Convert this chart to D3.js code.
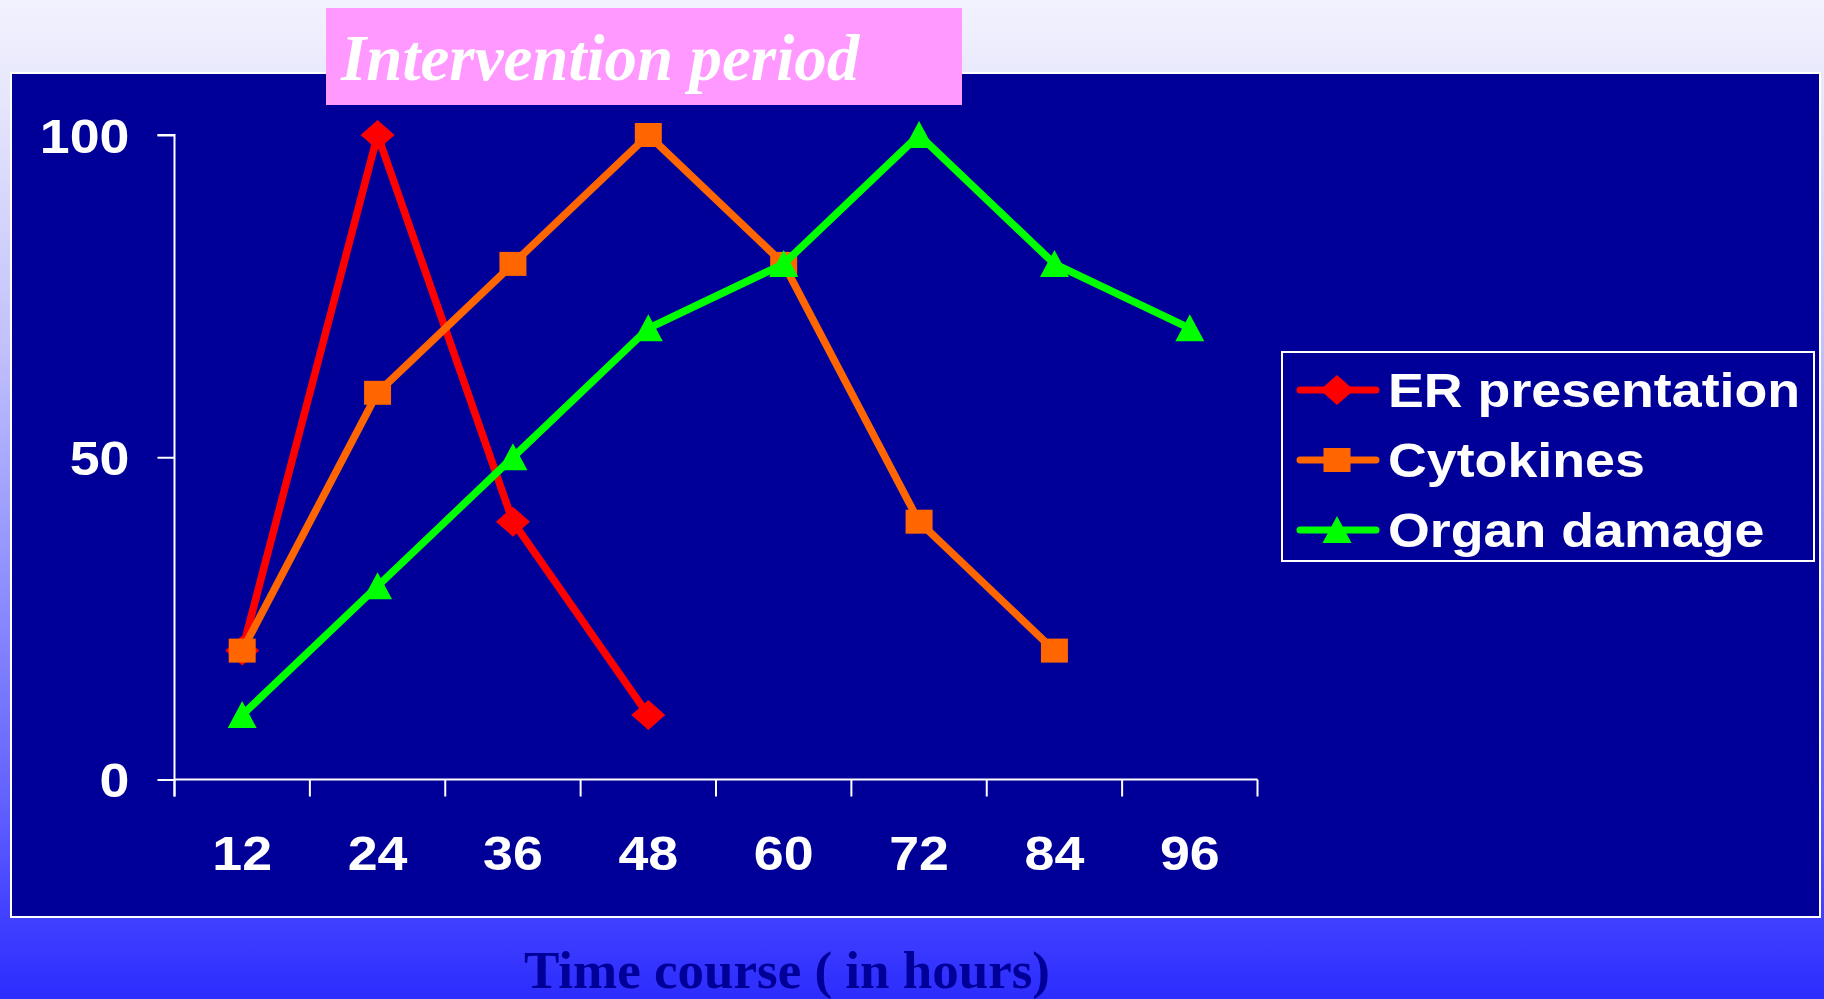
<!DOCTYPE html>
<html>
<head>
<meta charset="utf-8">
<script src="https://cdn.jsdelivr.net/npm/d3@7"></script>
<style>
  html, body { margin: 0; padding: 0; overflow: hidden; }
  svg { display: block; }
</style>
</head>
<body>
<script>
// ---- data ----
const categories = ["12", "24", "36", "48", "60", "72", "84", "96"];
const erPresentation = [20, 100, 40, 10, null, null, null, null];
const cytokines = [20, 60, 80, 100, 80, 40, 20, null];
const organDamage = [10, 30, 50, 70, 80, 100, 80, 70];
const yTicks = [0, 50, 100];
const seriesNames = ["ER presentation", "Cytokines", "Organ damage"];
const seriesColors = ["#ff0000", "#ff6600", "#00ff00"];
const seriesShapes = ["diamond", "square", "triangle"];
const titleText = "Intervention period";
const xTitle = "Time course ( in hours)";

const W = 1824, H = 999;
const SX = 1.12; // horizontal stretch of sans labels

const svg = d3.select("body").append("svg").attr("width", W).attr("height", H);

// background gradient
const defs = svg.append("defs");
const grad = defs.append("linearGradient").attr("id", "bg").attr("x1", 0).attr("y1", 0).attr("x2", 0).attr("y2", 1);
[[0, "#f2f2fe"], [0.1, "#e6e6fc"], [0.35, "#c0c0fc"], [0.8, "#6262ff"], [0.92, "#4040ff"], [1, "#2c2cff"]]
  .forEach(([o, c]) => grad.append("stop").attr("offset", o).attr("stop-color", c));
svg.append("rect").attr("width", W).attr("height", H).attr("fill", "url(#bg)");

// plot panel
svg.append("rect").attr("x", 11).attr("y", 73).attr("width", 1809).attr("height", 844)
  .attr("fill", "#000099").attr("stroke", "#ffffff").attr("stroke-width", 2);

// scales
const x = d3.scaleBand().domain(categories).range([174.5, 1257.5]).padding(0);
const y = d3.scaleLinear().domain([0, 100]).range([779.5, 135]);
const cx = c => x(c) + x.bandwidth() / 2;

// y axis
const yAxis = d3.axisLeft(y).tickValues(yTicks).tickSize(17).tickPadding(28).tickFormat(d3.format("d"));
const gy = svg.append("g").attr("transform", "translate(174.5,0)").call(yAxis);
gy.select(".domain").attr("stroke", "#ffffff").attr("stroke-width", 2).attr("d", `M-17,${y(100)}H0V${y(0) + 17}`);
gy.selectAll(".tick line").attr("stroke", "#ffffff").attr("stroke-width", 2);
gy.selectAll(".tick text")
  .attr("fill", "#ffffff").attr("font-family", "'Liberation Sans', Arial, sans-serif")
  .attr("font-weight", "bold").attr("font-size", 48).attr("text-anchor", "end")
  .attr("dy", "0.36em")
  .attr("transform", function () { const tx = +this.getAttribute("x"); return `translate(${tx},0) scale(${SX},1)`; })
  .attr("x", 0);

// x axis (labels at band centers, ticks at band boundaries)
const xAxis = d3.axisBottom(x).tickSize(0).tickPadding(0);
const gx = svg.append("g").attr("transform", `translate(0,${y(0)})`).call(xAxis);
gx.select(".domain").attr("stroke", "#ffffff").attr("stroke-width", 2).attr("d", `M${x.range()[0]},0H${x.range()[1]}`);
gx.selectAll(".tick text")
  .attr("fill", "#ffffff").attr("font-family", "'Liberation Sans', Arial, sans-serif")
  .attr("font-weight", "bold").attr("font-size", 48)
  .attr("y", 0).attr("dy", 0)
  .attr("transform", `translate(0,90) scale(${SX},1)`);
const boundaries = categories.map(c => x(c)).concat([x.range()[1]]);
gx.selectAll("line.bnd").data(boundaries).join("line").attr("class", "bnd")
  .attr("x1", d => d).attr("x2", d => d).attr("y1", 0).attr("y2", 17)
  .attr("stroke", "#ffffff").attr("stroke-width", 2);

// markers
function markerPath(shape) {
  if (shape === "diamond") return "M0,-15L17,0L0,15L-17,0Z";
  if (shape === "square") return "M-13.5,-12H13.5V12H-13.5Z";
  return "M0,-14L14.5,13L-14.5,13Z";
}

// series
const allSeries = [erPresentation, cytokines, organDamage];
const line = d3.line().defined(d => d.v != null).x(d => cx(d.c)).y(d => y(d.v));
allSeries.forEach((vals, i) => {
  const pts = categories.map((c, j) => ({ c, v: vals[j] }));
  svg.append("path").datum(pts).attr("d", line).attr("fill", "none")
    .attr("stroke", seriesColors[i]).attr("stroke-width", 7.5).attr("stroke-linejoin", "round");
  svg.append("g").selectAll("path").data(pts.filter(d => d.v != null)).join("path")
    .attr("d", markerPath(seriesShapes[i]))
    .attr("transform", d => `translate(${cx(d.c)},${y(d.v)})`)
    .attr("fill", seriesColors[i]);
});

// legend
const lg = svg.append("g");
lg.append("rect").attr("x", 1282).attr("y", 352).attr("width", 532).attr("height", 209)
  .attr("fill", "none").attr("stroke", "#ffffff").attr("stroke-width", 2);
const legendY = d3.scalePoint().domain(seriesNames).range([390, 530]);
seriesNames.forEach((name, i) => {
  const ly = legendY(name);
  lg.append("line").attr("x1", 1300).attr("x2", 1376).attr("y1", ly).attr("y2", ly)
    .attr("stroke", seriesColors[i]).attr("stroke-width", 7).attr("stroke-linecap", "round");
  lg.append("path").attr("d", markerPath(seriesShapes[i])).attr("transform", `translate(1337,${ly})`)
    .attr("fill", seriesColors[i]);
  lg.append("text").text(name)
    .attr("transform", `translate(1388,${ly + 17}) scale(${SX},1)`)
    .attr("fill", "#ffffff").attr("font-family", "'Liberation Sans', Arial, sans-serif")
    .attr("font-weight", "bold").attr("font-size", 48);
});

// intervention period box
svg.append("rect").attr("x", 326).attr("y", 8).attr("width", 636).attr("height", 97).attr("fill", "#ff99ff");
svg.append("text").text(titleText).attr("x", 341).attr("y", 80)
  .attr("fill", "#ffffff").attr("font-family", "'Liberation Serif', 'Times New Roman', serif")
  .attr("font-weight", "bold").attr("font-style", "italic").attr("font-size", 65);

// x axis title
svg.append("text").text(xTitle).attr("x", 787).attr("y", 988).attr("text-anchor", "middle")
  .attr("fill", "#000099").attr("font-family", "'Liberation Serif', 'Times New Roman', serif")
  .attr("font-weight", "bold").attr("font-size", 53);
</script>
</body>
</html>
